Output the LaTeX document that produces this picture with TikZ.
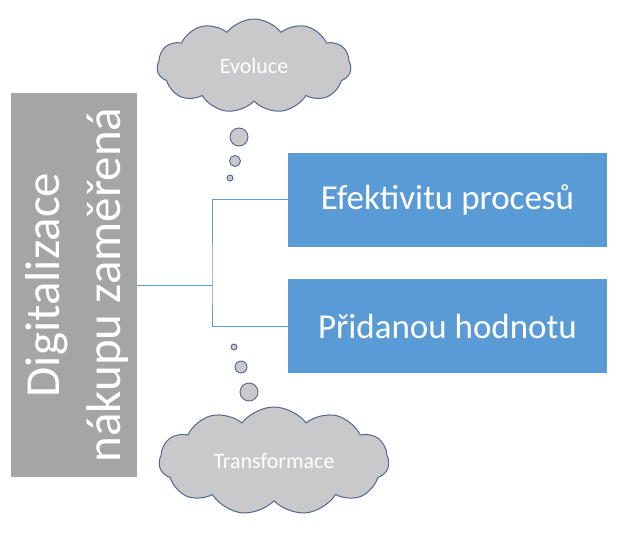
\documentclass[tikz,border=0pt]{standalone}
\usepackage{fontspec}
\setmainfont{Carlito}
\usetikzlibrary{shapes.symbols,positioning,calc}
\definecolor{boxgray}{HTML}{A5A5A5}
\definecolor{boxblue}{HTML}{5B9BD5}
\definecolor{cloudgray}{HTML}{C9C9CB}
\definecolor{cloudline}{HTML}{51678F}

\begin{document}
\begin{tikzpicture}
  [x=1pt,y=-1pt,
   mainN/.style={rectangle,fill=boxgray,text=white,minimum width=126pt,
     minimum height=384pt,inner sep=0pt},
   goalN/.style={rectangle,fill=boxblue,text=white,minimum width=319pt,
     minimum height=94pt,inner sep=0pt,font=\fontsize{35}{42}\selectfont},
   thoughtN/.style={cloud,cloud puffs=11,cloud puff arc=105,aspect=2,
     draw=cloudline,fill=cloudgray,line width=1pt,text=white,inner sep=0pt,
     font=\fontsize{22}{26}\selectfont},
   bubbleN/.style={circle,draw=cloudline,fill=cloudgray,line width=0.9pt,
     inner sep=0pt},
   link/.style={draw=boxblue,line width=0.9pt}]

  \useasboundingbox (0,0) rectangle (624,533);

  \node[mainN] (main) at (74,285) {};
  \node[rotate=90,text=white,align=center,
        font=\fontsize{49}{61}\selectfont] (title) at ($(main.center)+(3,0)$)
        {Digitalizace\\nákupu zaměřená};

  \node[goalN] (eff) at (447.5,199.5) {Efektivitu procesů};
  \node[goalN] (add) at (447.5,326) {Přidanou hodnotu};

  \coordinate (fork) at (212,285);
  \draw[link] (main.east) -- (fork);
  \draw[link] (eff.west) -| (fork) |- (add.west);

  \node[thoughtN,minimum width=194pt,minimum height=94pt] (evo) at (254,66) {Evoluce};
  \node[bubbleN,minimum size=18pt] (e1) at (239,137) {};
  \node[bubbleN,minimum size=11pt] (e2) at (235,161) {};
  \node[bubbleN,minimum size=6pt]  (e3) at (230,178) {};

  \node[thoughtN,minimum width=230pt,minimum height=108pt] (trans) at (274,461) {Transformace};
  \node[bubbleN,minimum size=6pt]  (t1) at (234,347) {};
  \node[bubbleN,minimum size=12pt] (t2) at (241,367) {};
  \node[bubbleN,minimum size=18pt] (t3) at (249,392) {};

\end{tikzpicture}
\end{document}
